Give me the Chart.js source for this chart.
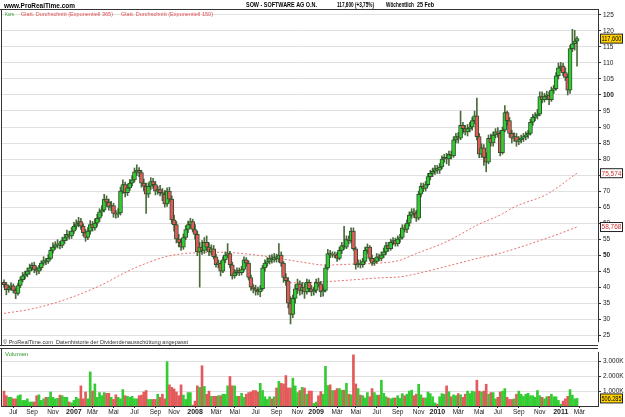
<!DOCTYPE html>
<html>
<head>
<meta charset="utf-8">
<script src="https://cdn.jsdelivr.net/npm/chart.js@4.4.0/dist/chart.umd.min.js"></script>
<style>
  body { margin: 0; background: #fff; }
  #wrap { position: relative; width: 625px; height: 417px; overflow: hidden; }
  canvas { position: absolute; left: 0; }
  #kurs { top: 0; }
  #vol { top: 347px; }
</style>
</head>
<body>
<div id="wrap">
  <canvas id="kurs" width="625" height="347"></canvas>
  <canvas id="vol" width="625" height="70"></canvas>
</div>
<script>
// Wochenkerzen SOW - eine Kerze pro Woche, erste Woche endet am 09.06.2006
const startDatum = new Date(2006, 5, 9, 12);

const eroeffnung = [
  41.5,40.8,39.2,39.8,40.4,39.0,38.0,40.5,42.3,43.5,
  44.0,45.0,46.0,46.8,45.5,45.0,46.0,47.5,48.3,48.0,
  49.0,51.5,52.5,53.2,53.5,53.0,54.5,55.5,56.5,56.0,
  57.5,59.0,59.8,60.5,59.0,57.0,55.5,57.5,59.5,58.5,
  60.0,61.5,63.5,64.0,67.5,66.5,65.0,65.5,63.0,62.8,
  63.2,70.0,72.0,69.5,71.0,72.5,73.5,76.0,76.5,75.8,
  72.5,71.5,69.0,71.5,73.0,72.0,70.0,70.5,69.5,69.0,
  66.0,70.0,67.5,61.0,59.5,55.0,54.0,52.5,55.5,58.0,
  59.5,60.5,58.0,56.5,51.0,52.5,51.5,54.0,52.5,51.0,
  52.0,49.5,47.0,47.5,45.0,48.5,50.0,50.5,47.0,43.5,
  44.5,45.2,44.5,45.5,48.5,47.5,43.0,40.0,39.5,39.0,
  38.5,39.5,46.0,47.5,48.0,49.0,48.5,49.5,48.8,50.0,
  47.5,43.0,42.0,35.0,31.5,36.5,39.5,41.0,39.0,40.0,
  38.5,41.5,39.5,38.5,39.0,41.5,41.0,38.5,39.0,46.0,
  50.5,50.0,50.2,50.0,49.0,51.5,53.0,52.5,55.0,54.5,
  57.5,52.0,47.0,47.5,47.0,48.0,51.5,52.5,49.0,47.5,
  48.0,49.5,49.0,50.0,51.0,53.0,52.0,54.0,54.5,53.5,
  55.0,55.5,58.5,58.0,60.0,62.5,63.5,63.0,61.5,69.0,
  71.5,70.8,72.0,74.5,75.5,76.2,77.0,76.5,77.5,80.0,
  80.5,80.0,81.5,81.0,86.0,87.0,86.5,90.5,89.5,88.5,
  89.5,90.0,92.0,93.5,87.0,81.5,83.5,80.5,79.0,86.5,
  85.0,87.5,88.5,88.0,82.0,89.0,94.5,92.0,88.0,86.5,
  87.0,85.5,86.0,86.5,87.0,87.5,88.0,91.5,93.0,93.5,
  94.0,99.5,98.5,99.5,100.0,98.5,101.5,102.0,106.0,108.5,
  109.0,107.0,105.5,101.5,114.5,116.0,116.8
];
const hoch = [
  42.3,41.5,40.6,41.4,41.0,39.8,41.2,43.2,44.6,45.0,
  46.0,47.2,47.6,47.8,46.4,46.8,48.2,49.5,49.0,50.2,
  52.5,53.8,54.2,54.8,54.3,55.6,56.5,57.8,57.5,58.6,
  60.2,61.0,61.8,61.5,59.8,58.0,58.6,60.8,60.5,61.3,
  62.8,64.5,65.5,69.0,68.5,67.5,66.8,66.2,64.0,64.5,
  71.2,73.5,72.8,72.2,73.6,74.8,77.2,78.2,77.3,76.5,
  73.8,72.5,72.6,74.2,74.0,73.0,71.5,71.8,70.8,70.2,
  71.0,71.2,68.5,62.5,60.5,56.5,55.0,56.6,59.2,60.6,
  61.5,61.2,59.5,57.5,54.0,54.5,55.5,56.0,53.8,53.2,
  53.0,50.3,48.5,48.2,49.5,51.0,53.6,51.2,47.8,45.5,
  46.0,46.0,46.5,49.5,49.2,48.2,43.8,40.8,40.6,40.0,
  40.5,46.8,48.5,49.2,50.0,50.2,50.5,50.3,53.6,51.0,
  48.0,44.2,43.0,37.0,37.5,40.8,42.5,42.0,41.5,41.2,
  42.5,42.3,40.5,40.0,42.5,42.8,41.8,40.2,47.0,51.8,
  51.5,51.0,51.0,50.8,52.5,54.0,59.0,56.0,56.0,58.5,
  58.5,52.5,48.5,48.5,49.0,52.5,53.5,53.0,50.0,49.0,
  50.5,50.3,51.0,52.2,54.0,54.0,55.0,55.5,55.3,56.0,
  56.5,59.5,59.5,61.0,63.5,64.5,64.5,64.0,70.0,72.5,
  72.5,73.0,75.5,76.5,77.2,78.0,78.0,78.6,81.0,81.5,
  81.8,82.5,82.5,87.0,88.0,88.3,95.0,91.5,90.5,90.8,
  91.5,93.0,95.0,99.0,88.0,84.8,84.5,82.0,87.5,87.8,
  88.5,89.5,89.8,89.0,90.0,96.7,95.0,93.0,89.0,88.2,
  88.0,87.0,87.5,88.0,88.5,89.0,92.5,94.0,94.5,95.5,
  101.0,101.0,100.5,101.2,101.0,102.5,103.0,107.0,110.0,110.2,
  110.0,108.5,106.5,115.5,120.5,120.2,118.2
];
const tief = [
  40.0,37.6,38.4,39.0,38.2,36.4,37.5,39.8,41.6,42.6,
  43.2,44.0,45.2,44.5,43.8,44.2,45.3,46.8,47.0,47.4,
  48.5,50.6,51.8,52.2,51.9,52.3,53.6,54.6,55.0,55.2,
  56.8,58.0,58.8,58.0,56.0,54.3,54.8,56.5,57.5,57.8,
  59.0,60.5,62.2,63.5,65.2,64.0,63.8,61.8,61.5,61.8,
  62.5,69.2,68.2,68.6,70.2,71.6,72.8,74.8,74.5,71.2,
  70.0,63.0,68.0,70.5,70.8,68.8,69.0,68.5,67.0,65.0,
  65.2,66.5,59.8,57.5,53.8,52.6,51.5,51.8,54.8,57.0,
  58.3,57.2,55.0,49.8,40.0,50.2,50.5,51.3,49.8,50.0,
  48.8,46.2,46.0,43.5,44.5,47.6,49.2,46.0,42.5,42.8,
  43.8,43.6,43.8,45.0,46.5,42.2,39.0,38.2,37.5,37.6,
  37.0,39.0,45.0,46.5,47.2,47.5,47.8,47.8,47.8,46.5,
  41.5,40.5,33.5,28.5,30.5,35.0,38.0,37.5,37.8,36.5,
  37.8,38.5,37.3,37.5,38.2,40.0,37.0,37.2,38.5,45.5,
  49.2,49.3,49.2,48.0,48.5,50.5,51.8,52.0,53.5,53.8,
  51.5,45.6,46.2,46.0,46.2,47.5,50.5,48.2,46.8,46.8,
  47.5,48.2,48.2,49.2,50.2,51.2,51.5,53.2,52.8,52.8,
  54.0,55.0,57.2,57.0,59.0,61.5,61.8,60.5,61.0,68.2,
  69.8,70.0,71.5,73.5,74.5,75.2,75.5,75.5,77.0,79.0,
  78.5,78.0,80.0,80.5,85.0,85.0,86.0,88.0,87.5,87.2,
  88.5,89.0,91.0,86.0,80.4,80.5,78.0,76.0,78.5,84.0,
  84.0,86.6,86.8,81.0,81.5,88.5,90.5,86.8,85.0,85.5,
  84.0,84.5,85.0,85.5,86.0,86.5,87.5,90.5,92.0,92.5,
  93.5,97.5,97.8,98.5,97.0,98.0,100.5,101.5,105.0,107.5,
  106.0,104.5,100.0,100.5,113.5,114.0,109.0
];
const schluss = [
  40.8,39.2,39.8,40.4,39.0,38.0,40.5,42.3,43.5,44.0,
  45.0,46.0,46.8,45.5,45.0,46.0,47.5,48.3,48.0,49.0,
  51.5,52.5,53.2,53.5,53.0,54.5,55.5,56.5,56.0,57.5,
  59.0,59.8,60.5,59.0,57.0,55.5,57.5,59.5,58.5,60.0,
  61.5,63.5,64.0,67.5,66.5,65.0,65.5,63.0,62.8,63.2,
  70.0,72.0,69.5,71.0,72.5,73.5,76.0,76.5,75.8,72.5,
  71.5,69.0,71.5,73.0,72.0,70.0,70.5,69.5,69.0,66.0,
  70.0,67.5,61.0,59.5,55.0,54.0,52.5,55.5,58.0,59.5,
  60.5,58.0,56.5,51.0,52.5,51.5,54.0,52.5,51.0,52.0,
  49.5,47.0,47.5,45.0,48.5,50.0,50.5,47.0,43.5,44.5,
  45.2,44.5,45.5,48.5,47.5,43.0,40.0,39.5,39.0,38.5,
  39.5,46.0,47.5,48.0,49.0,48.5,49.5,48.8,50.0,47.5,
  43.0,42.0,35.0,31.5,36.5,39.5,41.0,39.0,40.0,38.5,
  41.5,39.5,38.5,39.0,41.5,41.0,38.5,39.0,46.0,50.5,
  50.0,50.2,50.0,49.0,51.5,53.0,52.5,55.0,54.5,57.5,
  52.0,47.0,47.5,47.0,48.0,51.5,52.5,49.0,47.5,48.0,
  49.5,49.0,50.0,51.0,53.0,52.0,54.0,54.5,53.5,55.0,
  55.5,58.5,58.0,60.0,62.5,63.5,63.0,61.5,69.0,71.5,
  70.8,72.0,74.5,75.5,76.2,77.0,76.5,77.5,80.0,80.5,
  80.0,81.5,81.0,86.0,87.0,86.5,90.5,89.5,88.5,89.5,
  90.0,92.0,93.5,87.0,81.5,83.5,80.5,79.0,86.5,85.0,
  87.5,88.5,88.0,82.0,89.0,94.5,92.0,88.0,86.5,87.0,
  85.5,86.0,86.5,87.0,87.5,88.0,91.5,93.0,93.5,94.0,
  99.5,98.5,99.5,100.0,98.5,101.5,102.0,106.0,108.5,109.0,
  107.0,105.5,101.5,114.5,116.0,116.8,117.6
];
// Volumen in Tausend Stueck
const volumen = [
  1000,690,580,580,480,480,690,750,375,375,
  480,270,270,270,690,750,375,480,580,580,
  940,580,480,520,730,690,580,580,270,210,
  375,580,480,1350,480,940,480,2290,1000,1480,
  580,900,690,900,850,850,580,440,750,580,
  480,1100,690,650,580,650,480,480,690,730,
  940,1040,440,440,440,440,790,580,790,480,
  2970,1420,1250,1150,940,690,1420,730,440,900,
  900,60,330,1350,1250,2700,1310,790,1000,650,
  650,650,690,690,790,790,1350,1980,1350,1350,
  650,650,850,580,790,900,940,1040,1040,940,
  1520,1040,620,440,620,480,620,1210,1660,1520,
  1480,2040,1210,1210,1870,1350,900,1040,1250,1210,
  790,1000,1000,170,270,690,960,790,2660,1370,
  1420,1040,1040,1170,1170,1060,1060,1520,790,750,
  3430,1480,1170,730,690,540,900,620,1170,900,
  730,730,1730,850,620,540,480,540,540,690,
  520,830,690,790,1000,1060,690,790,1460,750,
  540,540,940,830,620,210,125,620,830,790,
  1350,960,620,750,690,830,750,580,790,1000,
  830,1000,960,1730,1000,940,1000,1460,790,900,
  900,480,580,940,1000,1170,580,440,440,480,
  790,1000,790,650,790,850,690,690,580,1040,
  690,580,480,620,650,790,620,620,375,125,
  330,480,650,1100,730,480,506.285
];

const ema150Woche = [0, 12, 27, 41, 55, 70, 84, 93, 105, 118, 128, 138, 150, 161, 170, 176, 190, 204, 213, 219, 233, 246];
const ema150Wert  = [31.8, 33.2, 36.3, 40.4, 45.6, 49.6, 50.8, 50.9, 50.3, 49.0, 47.8, 46.9, 47.2, 47.5, 48.4, 50.2, 54.2, 59.7, 62.5, 65.0, 69.0, 75.574];
const ema365Woche = [121, 136, 150, 161, 170, 176, 190, 204, 213, 235, 246];
const ema365Wert  = [41.3, 41.6, 42.3, 42.9, 43.2, 44.0, 46.5, 49.1, 50.6, 55.8, 58.768];

const kursTicks = [25, 30, 35, 40, 45, 50, 55, 60, 65, 70, 75, 80, 85, 90, 95, 100, 105, 110, 115, 120, 125];
const volTicks = [1000, 2000, 3000];
const monatsNamen = ['Jan', 'Feb', 'Mär', 'Apr', 'Mai', 'Jun', 'Jul', 'Aug', 'Sep', 'Okt', 'Nov', 'Dez'];

const FONT = '"Liberation Sans", Arial, sans-serif';
const GRUEN = '#33cc33';
const ROT = '#e35a5a';

// Monatsticks (jeder zweite Monat, Januar = Jahreszahl)
const monatsTicks = [];
for (let i = 0; i < 256; i++) {
  const d = new Date(startDatum.getTime() + i * 7 * 86400000);
  const vorher = new Date(startDatum.getTime() + (i - 1) * 7 * 86400000);
  if (d.getMonth() !== vorher.getMonth() && d.getMonth() % 2 === 0) {
    monatsTicks.push({ value: i, label: d.getMonth() === 0 ? String(d.getFullYear()) : monatsNamen[d.getMonth()] });
  }
}
function tickLabel(v) {
  const t = monatsTicks.find(m => m.value === v);
  return t ? t.label : '';
}

const steigt = schluss.map((c, i) => c >= eroeffnung[i]);
const xMin = -1.3, xMax = 255;

function wertBox(ctx, text, y, bg, fg) {
  ctx.font = '6.5px ' + FONT;
  ctx.fillStyle = bg;
  ctx.fillRect(600.5, y - 4.5, 22, 9);
  ctx.strokeStyle = '#222';
  ctx.lineWidth = 1;
  ctx.strokeRect(600.5, y - 4.5, 22, 9);
  ctx.fillStyle = fg;
  ctx.textAlign = 'center';
  ctx.textBaseline = 'middle';
  ctx.fillText(text, 611.5, y + 0.5, 20);
}

// Rahmen, Titel, Legende und Wertboxen im Kurschart
const kursDeko = {
  id: 'kursDeko',
  afterDraw(chart) {
    const { ctx, chartArea: a, scales: { y } } = chart;
    ctx.save();
    ctx.strokeStyle = '#333';
    ctx.lineWidth = 1;
    ctx.beginPath();
    ctx.moveTo(0, 9.5); ctx.lineTo(a.right, 9.5);
    ctx.moveTo(1.5, 9); ctx.lineTo(1.5, 346);
    ctx.moveTo(0, 345.5); ctx.lineTo(a.right, 345.5);
    ctx.stroke();

    ctx.textBaseline = 'alphabetic';
    ctx.textAlign = 'left';
    ctx.fillStyle = '#000';
    ctx.font = 'bold 8px ' + FONT;
    ctx.fillText('www.ProRealTime.com', 4, 8, 71);
    ctx.font = 'bold 7px ' + FONT;
    ctx.fillText('SOW - SOFTWARE AG O.N.', 246, 7, 71);
    ctx.fillText('117,600 (+3,75%)', 337, 7, 37);
    ctx.fillText('Wöchentlich', 386, 7, 28);
    ctx.fillText('25 Feb', 417, 7, 17);

    ctx.font = '6px ' + FONT;
    ctx.fillStyle = '#2a9a2a';
    ctx.fillText('Kurs', 5, 16, 9);
    ctx.fillStyle = '#e05050';
    ctx.fillText('Glatt. Durchschnitt (Exponentiell 365)', 21, 16, 92);
    ctx.fillText('Glatt. Durchschnitt (Exponentiell 150)', 121, 16, 92);

    ctx.fillStyle = '#333';
    ctx.fillText('© ProRealTime.com  Datenhistorie der Dividendenausschüttung angepasst', 3, 344, 185);

    wertBox(ctx, '117,600', y.getPixelForValue(schluss[schluss.length - 1]), '#ffd200', '#000');
    wertBox(ctx, '75,574', y.getPixelForValue(ema150Wert[ema150Wert.length - 1]), '#fff', '#d03030');
    wertBox(ctx, '58,768', y.getPixelForValue(ema365Wert[ema365Wert.length - 1]), '#fff', '#d03030');
    ctx.restore();
  }
};

new Chart(document.getElementById('kurs').getContext('2d'), {
  data: {
    datasets: [
      {
        type: 'line', order: 4,
        data: ema150Woche.map((w, k) => ({ x: w, y: ema150Wert[k] })),
        borderColor: '#e87070', borderWidth: 1, borderDash: [2, 2],
        pointRadius: 0, cubicInterpolationMode: 'monotone'
      },
      {
        type: 'line', order: 4,
        data: ema365Woche.map((w, k) => ({ x: w, y: ema365Wert[k] })),
        borderColor: '#e87070', borderWidth: 1, borderDash: [2, 2],
        pointRadius: 0, cubicInterpolationMode: 'monotone'
      },
      {
        // Dochte
        type: 'bar', order: 3, grouped: false,
        data: hoch.map((h, i) => ({ x: i, y: [tief[i], h] })),
        backgroundColor: '#4b6b3b', barThickness: 1
      },
      {
        // Kerzenkoerper
        type: 'bar', order: 2, grouped: false,
        data: schluss.map((c, i) => ({ x: i, y: [eroeffnung[i], c] })),
        backgroundColor: steigt.map(s => s ? GRUEN : ROT),
        borderColor: '#2f4f2f', borderWidth: 1, borderSkipped: false,
        barThickness: 4, minBarLength: 1
      }
    ]
  },
  options: {
    responsive: false, animation: false, events: [],
    layout: { padding: { top: 9, left: 1, right: 0, bottom: 1 } },
    plugins: { legend: { display: false }, tooltip: { enabled: false } },
    scales: {
      x: { type: 'linear', min: xMin, max: xMax, offset: false, display: false },
      y: {
        position: 'right', min: 23.15, max: 126.85,
        afterBuildTicks: s => { s.ticks = kursTicks.map(v => ({ value: v })); },
        afterFit: s => { s.width = 27; },
        ticks: {
          color: '#222', padding: 2,
          font: ctx => ({ family: FONT, size: 6.5, weight: ctx.tick && ctx.tick.value % 50 === 0 ? 'bold' : 'normal' })
        },
        grid: { color: '#e0e0e0', lineWidth: 1, tickLength: 3, tickColor: '#333' },
        border: { color: '#333' }
      }
    }
  },
  plugins: [kursDeko]
});

// Volumen-Panel
const volDeko = {
  id: 'volDeko',
  afterDraw(chart) {
    const { ctx, chartArea: a, scales: { y } } = chart;
    ctx.save();
    ctx.strokeStyle = '#333';
    ctx.lineWidth = 1;
    ctx.beginPath();
    ctx.moveTo(0, 1.5); ctx.lineTo(a.right, 1.5);
    ctx.moveTo(1.5, 1); ctx.lineTo(1.5, a.bottom);
    ctx.stroke();
    ctx.font = '6px ' + FONT;
    ctx.fillStyle = '#2a9a2a';
    ctx.textAlign = 'left';
    ctx.textBaseline = 'alphabetic';
    ctx.fillText('Volumen', 5, 9);
    wertBox(ctx, '506.285', y.getPixelForValue(volumen[volumen.length - 1]), '#ffd200', '#000');
    ctx.restore();
  }
};

new Chart(document.getElementById('vol').getContext('2d'), {
  type: 'bar',
  data: {
    datasets: [{
      data: volumen.map((v, i) => ({ x: i, y: v })),
      backgroundColor: steigt.map(s => s ? GRUEN : ROT),
      barThickness: 2
    }]
  },
  options: {
    responsive: false, animation: false, events: [],
    layout: { padding: { top: 2, left: 1, right: 0, bottom: 0 } },
    plugins: { legend: { display: false }, tooltip: { enabled: false } },
    scales: {
      x: {
        type: 'linear', min: xMin, max: xMax, offset: false,
        afterBuildTicks: s => { s.ticks = monatsTicks.map(t => ({ value: t.value })); },
        afterFit: s => { s.height = 11; },
        ticks: {
          autoSkip: false, maxRotation: 0, padding: 0, color: '#222',
          callback: v => tickLabel(v),
          font: ctx => ({ family: FONT, size: /^\d/.test(tickLabel(ctx.tick ? ctx.tick.value : -1)) ? 7 : 6.5,
                          weight: /^\d/.test(tickLabel(ctx.tick ? ctx.tick.value : -1)) ? 'bold' : 'normal' })
        },
        grid: { drawOnChartArea: false, offset: false, tickLength: 2, tickColor: '#333' },
        border: { color: '#333' }
      },
      y: {
        position: 'right', min: 0, max: 3562,
        afterBuildTicks: s => { s.ticks = volTicks.map(v => ({ value: v })); },
        afterFit: s => { s.width = 27; },
        ticks: { color: '#222', padding: 2, font: { family: FONT, size: 6.5 }, callback: v => (v / 1000) + '.000K' },
        grid: { color: '#e0e0e0', lineWidth: 1, tickLength: 3, tickColor: '#333' },
        border: { color: '#333' }
      }
    }
  },
  plugins: [volDeko]
});
</script>
</body>
</html>
